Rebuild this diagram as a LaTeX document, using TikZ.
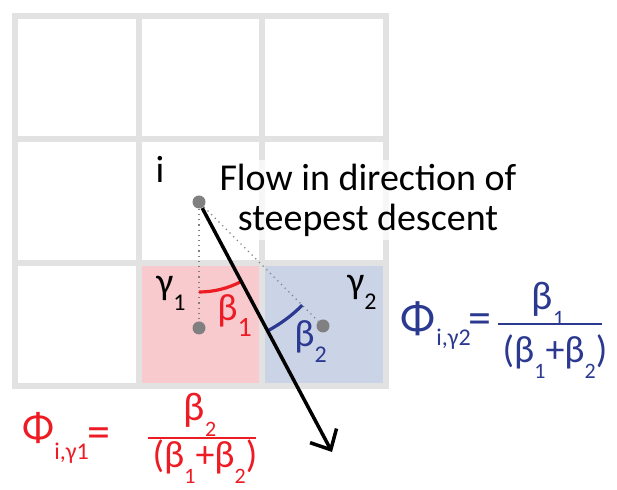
\documentclass[tikz,border=0pt]{standalone}
\usepackage{xcolor}
\usepackage{fontspec}
\setmainfont{Carlito}
\usepackage{tikz}
\usetikzlibrary{arrows.meta}
\definecolor{cellgray}{RGB}{226,226,226}
\definecolor{dotgray}{RGB}{128,128,128}
\definecolor{flowred}{RGB}{237,28,36}
\definecolor{flowblue}{RGB}{43,57,144}
\definecolor{pinkcell}{RGB}{249,202,205}
\definecolor{bluecell}{RGB}{203,211,230}
\newcommand{\lowsub}[2][11]{\raisebox{-0.4em}{\fontsize{#1}{#1}\selectfont #2}}
\begin{document}
\begin{tikzpicture}[x=0.5pt,y=-0.5pt,
  gridline/.style={draw=cellgray,line width=3pt,line cap=rect},
  celldot/.style={circle,fill=dotgray,inner sep=0pt,minimum size=6.5pt},
  guide/.style={draw=dotgray,dotted,line width=0.6pt},
  lbl/.style={font=\fontsize{19}{20}\selectfont,inner sep=0pt},
  flowarrow/.style={draw=black,line width=1.75pt,-{Straight Barb[length=8pt,width=15pt]}},
  fracbar/.style={line width=1pt}]
\useasboundingbox (0,0) rectangle (617,490);
\fill[pinkcell] (138.5,263) rectangle (262,386.5);
\fill[bluecell] (262,263) rectangle (385.5,386.5);
\foreach \k in {0,...,3} {
  \draw[gridline] (15+123.5*\k,16) -- (15+123.5*\k,386.5);
  \draw[gridline] (15,16+123.5*\k) -- (385.5,16+123.5*\k);
}
\node[lbl,align=center,fill=white,fill opacity=0.75,text opacity=1,inner sep=2pt] (flow) at (368,200) {Flow in direction of\\steepest descent};
\node[celldot] (idot) at (199,202) {};
\node[celldot] (g1dot) at (199,328) {};
\node[celldot] (g2dot) at (323,326) {};
\coordinate (tip) at (332,452);
\draw[guide] (idot) -- (g1dot);
\draw[guide] (idot) -- (g2dot);
\draw[flowred,line width=1.6pt] ([shift={(90:90)}]idot.center) arc[start angle=90,end angle=62,radius=90];
\draw[flowblue,line width=1.6pt] ([shift={(62:146)}]idot.center) arc[start angle=62,end angle=45,radius=146];
\draw[flowarrow] (idot) -- (tip);
\node[lbl,anchor=base] (ilbl) at (160,183) {i};
\node[lbl,anchor=base west] (g1lbl) at (156,295) {γ\lowsub[12]{1}};
\node[lbl,anchor=base west] (g2lbl) at (347,294) {γ\lowsub[12]{2}};
\node[lbl,text=flowred,anchor=base west] (b1lbl) at (217,321) {β\lowsub[14]{1}};
\node[lbl,text=flowblue,anchor=base west] (b2lbl) at (294,347) {β\lowsub[12]{2}};
\node[anchor=base west,text=flowblue,font=\fontsize{23}{23}\selectfont,inner sep=0pt] (phiB) at (400,334) {Φ};
\node[anchor=base west,text=flowblue,font=\fontsize{12}{12}\selectfont,inner sep=0pt] (subB) at (436,346) {i,γ2};
\node[text=flowblue,font=\fontsize{23}{23}\selectfont,inner sep=0pt] (eqB) at (480,324) {=};
\node[lbl,text=flowblue,font=\fontsize{20}{20}\selectfont,anchor=base] (numB) at (548,310) {β\lowsub{1}};
\node[lbl,text=flowblue,anchor=base] (denB) at (555,363) {(β\lowsub{1}+β\lowsub{2})};
\draw[fracbar,flowblue] (498,324) -- (602,324);
\node[anchor=base west,text=flowred,font=\fontsize{21}{21}\selectfont,inner sep=0pt] (phiR) at (22,442) {Φ};
\node[anchor=base west,text=flowred,font=\fontsize{12}{12}\selectfont,inner sep=0pt] (subR) at (54,460) {i,γ1};
\node[text=flowred,font=\fontsize{23}{23}\selectfont,inner sep=0pt] (eqR) at (99,438) {=};
\node[lbl,text=flowred,font=\fontsize{20}{20}\selectfont,anchor=base] (numR) at (200,421) {β\lowsub{2}};
\node[lbl,text=flowred,anchor=base] (denR) at (205,468) {(β\lowsub{1}+β\lowsub{2})};
\draw[fracbar,flowred] (148,438) -- (256,438);
\end{tikzpicture}
\end{document}
